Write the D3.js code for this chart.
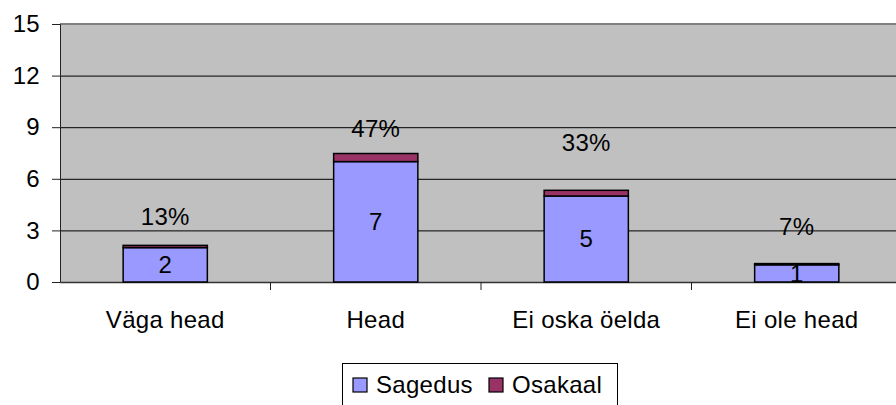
<!DOCTYPE html>
<html>
<head>
<meta charset="utf-8">
<script src="https://d3js.org/d3.v7.min.js"></script>
<style>
  body { margin: 0; background: #fff; }
  svg text { font-family: "Liberation Sans", Arial, sans-serif; letter-spacing: 0.3px; }
</style>
</head>
<body>
<div id="chart"></div>
<script>
  const categories = ["Väga head", "Head", "Ei oska öelda", "Ei ole head"];
  const sagedus = [2, 7, 5, 1];
  const osakaal = [0.13, 0.47, 0.33, 0.07];
  const pctLabels = ["13%", "47%", "33%", "7%"];
  const yTicks = [0, 3, 6, 9, 12, 15];

  // how far the percent labels sit above the bar top (px)
  const labelLift = [29, 25, 48, 37];

  const width = 896, height = 405;
  const plot = { left: 60, top: 24, right: 902, bottom: 282 };
  const fs = 24;

  const svg = d3.select("#chart").append("svg")
    .attr("width", width)
    .attr("height", height);

  const x = d3.scaleBand()
    .domain(categories)
    .range([plot.left, plot.right])
    .paddingInner(0.6)
    .paddingOuter(0.3);

  const y = d3.scaleLinear()
    .domain([0, 15])
    .range([plot.bottom, plot.top]);

  // plot background
  svg.append("rect")
    .attr("x", plot.left).attr("y", plot.top)
    .attr("width", plot.right - plot.left)
    .attr("height", plot.bottom - plot.top)
    .attr("fill", "#c0c0c0");

  // gridlines
  svg.append("g").selectAll("line")
    .data(yTicks.filter(d => d > 0 && d < 15))
    .join("line")
    .attr("x1", plot.left).attr("x2", plot.right)
    .attr("y1", d => y(d) + 0.5).attr("y2", d => y(d) + 0.5)
    .attr("stroke", "#000").attr("stroke-width", 1);

  svg.append("line")
    .attr("x1", plot.left).attr("x2", plot.right)
    .attr("y1", plot.top).attr("y2", plot.top)
    .attr("stroke", "#808080").attr("stroke-width", 2);

  // y axis
  const yAxis = svg.append("g")
    .attr("transform", `translate(${plot.left},0)`)
    .call(d3.axisLeft(y).tickValues(yTicks).tickSize(8).tickPadding(12));
  yAxis.selectAll("path, line").attr("stroke", "#222");
  yAxis.selectAll("text").attr("font-size", fs).attr("fill", "#000");

  // x axis (ticks between categories)
  const xAxis = svg.append("g")
    .attr("transform", `translate(0,${plot.bottom})`)
    .call(d3.axisBottom(x).tickSize(0).tickPadding(29).tickSizeOuter(0));
  xAxis.select("path").attr("stroke", "#333").attr("stroke-width", 1.5);
  xAxis.selectAll("text").attr("font-size", fs).attr("fill", "#000");
  const step = x.step();
  xAxis.selectAll(".sep")
    .data(categories.slice(1))
    .join("line")
    .attr("class", "sep")
    .attr("x1", d => x(d) - (step - x.bandwidth()) / 2)
    .attr("x2", d => x(d) - (step - x.bandwidth()) / 2)
    .attr("y1", 0).attr("y2", 8)
    .attr("stroke", "#222");

  // stacked bars
  const rows = categories.map((c, i) => ({ c, s: sagedus[i], o: osakaal[i], i }));

  svg.append("g").selectAll("rect")
    .data(rows)
    .join("rect")
    .attr("x", d => x(d.c))
    .attr("width", x.bandwidth())
    .attr("y", d => y(d.s))
    .attr("height", d => y(0) - y(d.s))
    .attr("fill", "#9999ff")
    .attr("stroke", "#000").attr("stroke-width", 1.5);

  svg.append("g").selectAll("rect")
    .data(rows)
    .join("rect")
    .attr("x", d => x(d.c))
    .attr("width", x.bandwidth())
    .attr("y", d => y(d.s + d.o))
    .attr("height", d => y(d.s) - y(d.s + d.o))
    .attr("fill", "#993366")
    .attr("stroke", "#000").attr("stroke-width", 1.5);

  // value labels
  svg.append("g").selectAll("text")
    .data(rows)
    .join("text")
    .attr("x", d => x(d.c) + x.bandwidth() / 2)
    .attr("y", d => (y(0) + y(d.s)) / 2)
    .attr("dy", "0.35em")
    .attr("text-anchor", "middle")
    .attr("font-size", fs)
    .text(d => d.s);

  svg.append("g").selectAll("text")
    .data(rows)
    .join("text")
    .attr("x", d => x(d.c) + x.bandwidth() / 2)
    .attr("y", d => y(d.s + d.o) - labelLift[d.i])
    .attr("dy", "0.35em")
    .attr("text-anchor", "middle")
    .attr("font-size", fs)
    .text(d => pctLabels[d.i]);

  // legend
  const legend = svg.append("g");
  legend.append("rect")
    .attr("x", 342.5).attr("y", 363.5)
    .attr("width", 275).attr("height", 50)
    .attr("fill", "#fff").attr("stroke", "#000");
  const items = [{ name: "Sagedus", color: "#9999ff", x: 353 }, { name: "Osakaal", color: "#993366", x: 489 }];
  items.forEach(it => {
    legend.append("rect")
      .attr("x", it.x).attr("y", 378)
      .attr("width", 14).attr("height", 14)
      .attr("fill", it.color).attr("stroke", "#000").attr("stroke-width", 1.2);
    legend.append("text")
      .attr("x", it.x + 23).attr("y", 385)
      .attr("dy", "0.35em")
      .attr("font-size", fs)
      .text(it.name);
  });
</script>
</body>
</html>
